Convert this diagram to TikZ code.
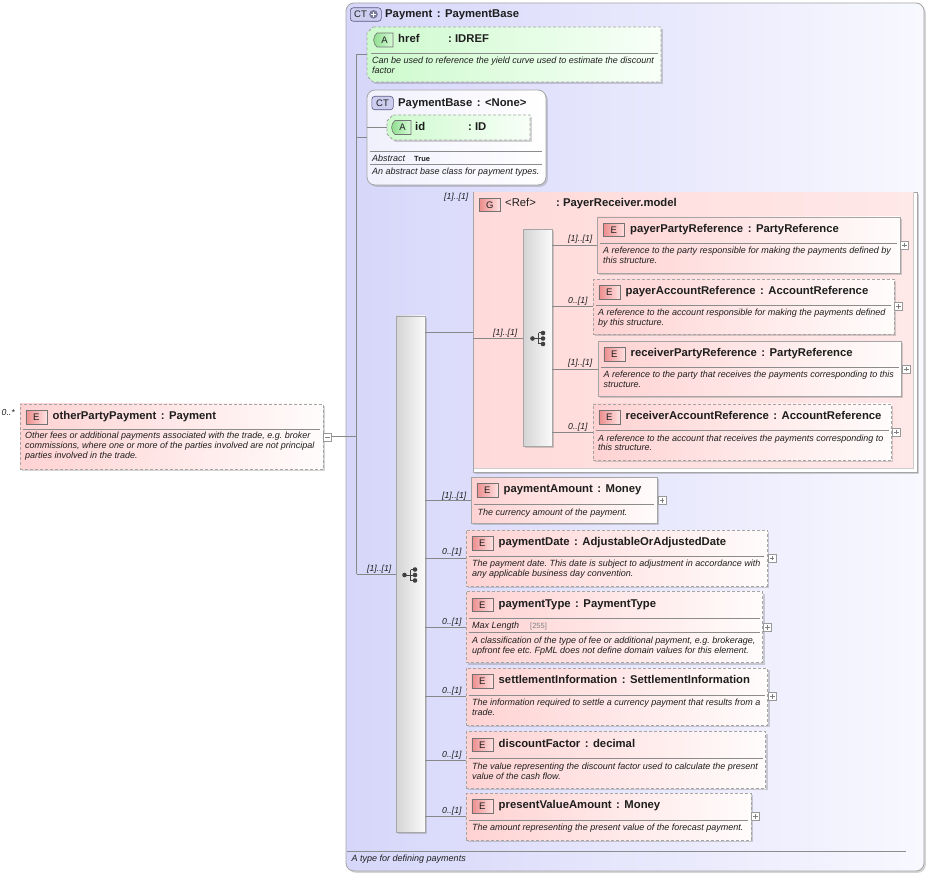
\documentclass[tikz,border=0pt]{standalone}
\usepackage{fontspec}
\setmainfont{Liberation Sans}
\usetikzlibrary{fit,shadows}
\frenchspacing
\definecolor{txt}{RGB}{30,30,30}
\definecolor{lavL}{RGB}{214,214,250}
\definecolor{lavR}{RGB}{248,248,255}
\definecolor{pinkL}{RGB}{255,210,210}
\definecolor{pinkR}{RGB}{255,252,252}
\definecolor{grpL}{RGB}{255,218,218}
\definecolor{grpR}{RGB}{255,232,232}
\definecolor{grnL}{RGB}{205,250,205}
\definecolor{grnR}{RGB}{248,255,248}
\definecolor{bord}{RGB}{165,165,165}
\definecolor{connc}{RGB}{135,135,135}
\definecolor{badgeEL}{RGB}{236,140,140}
\definecolor{badgeER}{RGB}{255,224,224}
\definecolor{badgeAL}{RGB}{140,220,140}
\definecolor{badgeAR}{RGB}{215,250,215}
\definecolor{ctbadge}{RGB}{205,205,240}
\definecolor{ctbord}{RGB}{90,90,130}
\newcommand\cln{\hspace{4.5pt}:\hspace{4.5pt}}
\tikzset{
 shd/.style={drop shadow={shadow xshift=1.8pt,shadow yshift=-1.8pt,opacity=0.28,fill=black!60}},
 ebox/.style={draw=bord, line width=0.8pt, left color=pinkL, right color=pinkR, inner sep=0pt, shd},
 opt/.style={dash pattern=on 3pt off 2pt},
 ebadge/.style={draw=black!55, line width=0.6pt, left color=badgeEL, right color=badgeER, inner sep=0pt, minimum width=21pt, minimum height=13.5pt, anchor=north west, font=\fontsize{9.5}{10}\selectfont, text=txt},
 ttl/.style={anchor=base west, inner sep=0pt, font=\fontsize{11.3}{13}\selectfont\bfseries, text=txt},
 ttln/.style={anchor=base west, inner sep=0pt, font=\fontsize{11.3}{13}\selectfont, text=txt},
 desc/.style={anchor=base west, inner sep=0pt, font=\fontsize{9}{10}\selectfont\itshape, text=txt},
 mult/.style={anchor=base west, inner sep=0pt, font=\fontsize{8.7}{10}\selectfont\itshape, text=txt},
 sepl/.style={draw=black!45, line width=0.6pt},
 cline/.style={draw=connc, line width=0.7pt},
 seqbox/.style={draw=black!35, line width=0.6pt, left color=black!17, right color=black!2, inner sep=0pt, shd},
 pbox/.style={draw=black!40, fill=white, inner sep=0pt, minimum size=8pt, anchor=west, line width=0.5pt},
}
\newcommand\elem[8]{%
  \node[ebox,#6,fit={(#2,#3)(#4,#5)}] (#1) {};
  \node[ebadge] (#1-b) at (#2+5.5,#3+6) {E};
  \node[ttl] (#1-t) at (#2+32.5,#3+15.3) {#7};
  \draw[sepl] (#2+2.5,#8) -- (#4-3,#8);
}
\newcommand\dl[3]{\node[desc] at (#1,#2) {#3};}
\newcommand\plusb[2]{%
  \node[pbox] (#1) at (#2.east) {};
  \draw[black!50, line width=0.5pt] ([xshift=1.8pt]#1.west) -- ([xshift=-1.8pt]#1.east) ([yshift=-1.8pt]#1.north) -- ([yshift=1.8pt]#1.south);
}
\newcommand\seqicon[2]{%
  \draw[black!75, line width=1pt] (#1-6,#2) -- (#1,#2) (#1,#2-5.5) -- (#1,#2+5.5)
     (#1,#2-5.5) -- (#1+4.5,#2-5.5) (#1,#2+5.5) -- (#1+4.5,#2+5.5) (#1,#2) -- (#1+4.5,#2);
  \fill[black!75] (#1-6,#2) circle (2.3pt) (#1+4.5,#2-5.5) circle (2.3pt) (#1+4.5,#2) circle (2.3pt) (#1+4.5,#2+5.5) circle (2.3pt);
}
\newcommand\abadge[2]{%
  \draw[draw=black!55, line width=0.6pt, left color=badgeAL, right color=badgeAR]
    (#1+21,#2) -- (#1+5,#2) .. controls (#1+0.5,#2+3) and (#1+0.5,#2+11) .. (#1+5,#2+14) -- (#1+21,#2+14) -- cycle;
  \node[font=\fontsize{9.5}{10}\selectfont, text=txt, inner sep=0pt] at (#1+12.5,#2+7) {A};
}
\begin{document}
\begin{tikzpicture}[x=1pt,y=-1pt]
\useasboundingbox (0,0) rectangle (929,874);
\fill[white] (0,0) rectangle (929,874);

% ---- complex type Payment
\node[draw=bord, line width=0.8pt, rounded corners=8pt, left color=lavL, right color=lavR, fit={(346,3)(924,871)}, inner sep=0pt, shd] (ct) {};
\node[draw=ctbord, line width=0.6pt, fill=ctbadge, rounded corners=3pt, inner sep=0pt, minimum width=31pt, minimum height=13.5pt, anchor=north west] (ct-b) at (350,7.5) {};
\node[font=\fontsize{9.5}{10}\selectfont, text=txt, inner sep=0pt] at (360.5,14.5) {CT};
\fill[ctbord!80] (373.5,14.3) circle (4.3pt);
\draw[white, line width=1.1pt] (370.8,14.3) -- (376.2,14.3) (373.5,11.6) -- (373.5,17);
\node[ttl] (ct-t) at (385,18) {Payment\cln PaymentBase};
\draw[sepl] (ct.west |- 0,851) ++(1,0) -- (906,851);
\node[desc] at (351.5,861.5) {A type for defining payments};

% ---- attribute href
\draw[draw=bord, line width=0.8pt, opt, left color=grnL, right color=grnR, shd]
  (373,27) -- (661,27) -- (661,82) -- (373,82) -- (367,76) -- (367,33) -- cycle;
\coordinate (href) at (367,54.5);
\abadge{372}{33}
\node[ttl] at (398,43) {href};
\node[ttl] at (448,43) {: IDREF};
\draw[sepl] (371,53) -- (658,53);
\dl{372}{64}{Can be used to reference the yield curve used to estimate the discount}
\dl{372}{73.5}{factor}

% ---- PaymentBase
\node[draw=bord, line width=0.8pt, rounded corners=8pt, left color=lavL!35, right color=white, fit={(367,90)(546,185)}, inner sep=0pt, shd] (pb) {};
\node[draw=ctbord, line width=0.6pt, fill=ctbadge, rounded corners=3pt, inner sep=0pt, minimum width=21.5pt, minimum height=13.5pt, anchor=north west, font=\fontsize{9.5}{10}\selectfont, text=txt] (pb-b) at (371.5,96) {CT};
\node[ttl] at (398,107) {PaymentBase\cln <None>};
\draw[draw=bord, line width=0.8pt, opt, left color=grnL, right color=grnR, shd]
  (393,115) -- (530,115) -- (530,140) -- (393,140) -- (387,134) -- (387,121) -- cycle;
\coordinate (idattr) at (387,127.5);
\abadge{390}{120.5}
\node[ttl] at (415,131) {id};
\node[ttl] at (468,131) {: ID};
\draw[cline] (pb.west |- idattr) -- (idattr);
\draw[sepl] (370,151) -- (542,151);
\node[desc] at (372,161.5) {Abstract};
\node[anchor=base west, inner sep=0pt, font=\fontsize{7.5}{9}\selectfont\bfseries, text=txt] at (414,161.5) {True};
\draw[sepl] (370,164.5) -- (542,164.5);
\dl{372}{175}{An abstract base class for payment types.}

% ---- left element
\elem{opp}{20}{404}{323}{469.5}{opt}{otherPartyPayment\cln Payment}{429.3}
\dl{25}{438.5}{Other fees or additional payments associated with the trade, e.g. broker}
\dl{25}{448.5}{commissions, where one or more of the parties involved are not principal}
\dl{25}{458.5}{parties involved in the trade.}
\node[mult] at (1.5,416) {0..*};
\node[pbox] (opp-m) at (opp.east) {};
\draw[black!50, line width=0.5pt] ([xshift=1.8pt]opp-m.west) -- ([xshift=-1.8pt]opp-m.east);

% ---- trunk
\coordinate (trunkTop) at (356.5,54.5);
\coordinate (trunkBot) at (356.5,574);
\draw[cline] (trunkTop) -- (trunkBot);
\draw[cline] (trunkTop) -- (href);
\draw[cline] (trunkTop |- pb.west) -- (pb.west);
\draw[cline] (opp-m.east) -- (opp-m.east -| trunkTop);

% ---- main sequence
\node[seqbox, fit={(396,316)(425,832)}] (ms) {};
\seqicon{410.5}{575}
\draw[cline] (trunkBot) -- (ms.west);
\node[mult] at (367,571.5) {[1]..[1]};

% ---- group
\node[draw=bord, line width=0.8pt, fill=white, fit={(473,192)(917,472)}, inner sep=0pt, shd] (grp) {};
\path[left color=grpL, right color=grpR] (474,193) rectangle (913.5,468.5);
\draw[black!20] (913.5,193) -- (913.5,468.5) -- (474,468.5);
\node[mult] at (444,200) {[1]..[1]};
\node[ebadge] (grp-b) at (479,198) {G};
\node[ttln] at (505,207) {<Ref>};
\node[ttl] at (556,207) {: PayerReceiver.model};
\draw[cline] (ms.east |- grp.west) -- (grp.west);

% inner sequence
\node[seqbox, fit={(523,229.5)(552,446.5)}] (is) {};
\seqicon{538.5}{338.5}
\draw[cline] (grp.west |- is.west) -- (is.west);
\node[mult] at (493,335.5) {[1]..[1]};

\elem{ppr}{597.5}{217}{900}{273}{solid}{payerPartyReference\cln PartyReference}{243}
\dl{603}{253.5}{A reference to the party responsible for making the payments defined by}
\dl{603}{263.5}{this structure.}
\plusb{ppr-p}{ppr}
\draw[cline] (is.east |- ppr.west) -- (ppr.west);
\node[mult] at (568,241.5) {[1]..[1]};

\elem{par}{593}{279.3}{894}{334}{opt}{payerAccountReference\cln AccountReference}{305}
\dl{598}{315.7}{A reference to the account responsible for making the payments defined}
\dl{598}{325.7}{by this structure.}
\plusb{par-p}{par}
\draw[cline] (is.east |- par.west) -- (par.west);
\node[mult] at (568,304) {0..[1]};

\elem{rpr}{598}{341.5}{901.5}{396.5}{solid}{receiverPartyReference\cln PartyReference}{367.3}
\dl{603.5}{377.7}{A reference to the party that receives the payments corresponding to this}
\dl{603.5}{387.5}{structure.}
\plusb{rpr-p}{rpr}
\draw[cline] (is.east |- rpr.west) -- (rpr.west);
\node[mult] at (568,366) {[1]..[1]};

\elem{rar}{593}{404}{891.5}{460}{opt}{receiverAccountReference\cln AccountReference}{430}
\dl{598}{441}{A reference to the account that receives the payments corresponding to}
\dl{598}{450.7}{this structure.}
\plusb{rar-p}{rar}
\draw[cline] (is.east |- rar.west) -- (rar.west);
\node[mult] at (568,429) {0..[1]};

% ---- main sequence children
\elem{pam}{471}{477.3}{657.3}{523.3}{solid}{paymentAmount\cln Money}{504}
\dl{477.5}{515}{The currency amount of the payment.}
\plusb{pam-p}{pam}
\draw[cline] (ms.east |- pam.west) -- (pam.west);
\node[mult] at (442,498) {[1]..[1]};

\elem{pdt}{466}{530}{767.3}{586}{opt}{paymentDate\cln AdjustableOrAdjustedDate}{556}
\dl{472}{566.7}{The payment date. This date is subject to adjustment in accordance with}
\dl{472}{576.7}{any applicable business day convention.}
\plusb{pdt-p}{pdt}
\draw[cline] (ms.east |- pdt.west) -- (pdt.west);
\node[mult] at (442,554.5) {0..[1]};

\elem{pty}{466}{591.7}{762.7}{662.7}{opt}{paymentType\cln PaymentType}{618.3}
\node[desc] at (472,628.3) {Max Length};
\node[anchor=base west, inner sep=0pt, font=\fontsize{7.5}{9}\selectfont, text=black!50] at (530,628.3) {[255]};
\draw[sepl] (468.5,632.7) -- (759.7,632.7);
\dl{472}{643.3}{A classification of the type of fee or additional payment, e.g. brokerage,}
\dl{472}{653.3}{upfront fee etc. FpML does not define domain values for this element.}
\plusb{pty-p}{pty}
\draw[cline] (ms.east |- pty.west) -- (pty.west);
\node[mult] at (442,624) {0..[1]};

\elem{sti}{466}{668.3}{767.7}{725}{opt}{settlementInformation\cln SettlementInformation}{695}
\dl{472}{705.7}{The information required to settle a currency payment that results from a}
\dl{472}{715.7}{trade.}
\plusb{sti-p}{sti}
\draw[cline] (ms.east |- sti.west) -- (sti.west);
\node[mult] at (442,693.5) {0..[1]};

\elem{dcf}{466}{731.7}{765.7}{788.3}{opt}{discountFactor\cln decimal}{758.3}
\dl{472}{769}{The value representing the discount factor used to calculate the present}
\dl{472}{779}{value of the cash flow.}
\draw[cline] (ms.east |- dcf.west) -- (dcf.west);
\node[mult] at (442,757) {0..[1]};

\elem{pva}{466}{793.3}{751}{840}{opt}{presentValueAmount\cln Money}{820}
\dl{472}{830.7}{The amount representing the present value of the forecast payment.}
\plusb{pva-p}{pva}
\draw[cline] (ms.east |- pva.west) -- (pva.west);
\node[mult] at (442,813) {0..[1]};
\end{tikzpicture}
\end{document}
